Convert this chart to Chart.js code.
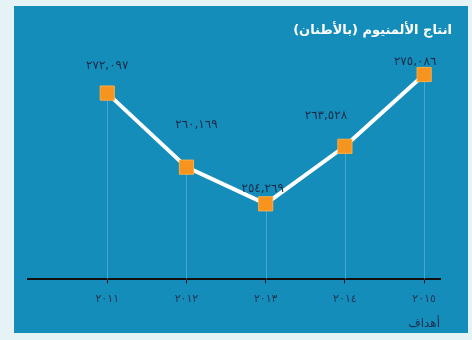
<!DOCTYPE html>
<html>
<head>
<meta charset="utf-8">
<script src="https://cdn.jsdelivr.net/npm/chart.js@4.4.1/dist/chart.umd.min.js"></script>
<style>
  html, body { margin: 0; padding: 0; background: #e6f3f6; }
  #panel { position: absolute; left: 14px; top: 6px; width: 454px; height: 327px; background: #158dba; }
  canvas { display: block; }
</style>
</head>
<body>
<div id="panel"><canvas id="chart" width="454" height="327"></canvas></div>
<script>
// بيانات انتاج الألمنيوم
const years = [2011, 2012, 2013, 2014, 2015];
const yearLabels = ['٢٠١١', '٢٠١٢', '٢٠١٣', '٢٠١٤', '٢٠١٥'];
const production = [272097, 260169, 254269, 263528, 275086];
const valueLabels = ['٢٧٢,٠٩٧', '٢٦٠,١٦٩', '٢٥٤,٢٦٩', '٢٦٣,٥٢٨', '٢٧٥,٠٨٦'];
const chartTitle = 'انتاج الألمنيوم (بالأطنان)';
const sourceText = 'أهداف';

// label offset from the point (dx, dy)
const labelOffsets = [[0, -27], [10, -42], [-3, -15], [-19, -30], [-9, -13]];

const arabicFont = '"DejaVu Sans", sans-serif';

const dropLines = {
  id: 'dropLines',
  beforeDatasetsDraw(chart) {
    const ctx = chart.ctx;
    const meta = chart.getDatasetMeta(0);
    const bottom = chart.chartArea.bottom;
    ctx.save();
    ctx.strokeStyle = 'rgba(130, 200, 230, 0.45)';
    ctx.lineWidth = 1;
    meta.data.forEach(p => {
      ctx.beginPath();
      ctx.moveTo(Math.round(p.x) + 0.5, p.y);
      ctx.lineTo(Math.round(p.x) + 0.5, bottom);
      ctx.stroke();
    });
    ctx.restore();
  }
};

const valueText = {
  id: 'valueText',
  afterDatasetsDraw(chart) {
    const ctx = chart.ctx;
    const meta = chart.getDatasetMeta(0);
    ctx.save();
    ctx.font = '12px ' + arabicFont;
    ctx.fillStyle = '#1a2b48';
    ctx.textAlign = 'center';
    ctx.textBaseline = 'middle';
    meta.data.forEach((p, i) => {
      ctx.fillText(valueLabels[i], p.x + labelOffsets[i][0], p.y + labelOffsets[i][1]);
    });
    // title
    ctx.font = 'bold 13px ' + arabicFont;
    ctx.fillStyle = '#ffffff';
    ctx.textAlign = 'right';
    ctx.fillText(chartTitle, chart.width - 16, 25);
    ctx.restore();
  }
};

new Chart(document.getElementById('chart'), {
  type: 'line',
  data: {
    datasets: [{
      data: years.map((y, i) => ({ x: y, y: production[i] })),
      borderColor: '#ffffff',
      borderWidth: 4,
      pointStyle: 'rect',
      pointRadius: 10,
      pointHoverRadius: 10,
      pointBackgroundColor: '#f7941d',
      pointBorderColor: '#fbae45',
      pointBorderWidth: 1,
      tension: 0
    }]
  },
  options: {
    responsive: false,
    animation: false,
    layout: { padding: { top: 38, right: 28, left: 14, bottom: 2 } },
    plugins: {
      legend: { display: false },
      tooltip: { enabled: false }
    },
    scales: {
      x: {
        type: 'linear',
        min: 2010,
        max: 2015.2,
        border: { color: '#111111', width: 2 },
        grid: {
          drawOnChartArea: false,
          drawTicks: true,
          tickLength: 4,
          color: ctx => (ctx.tick && ctx.tick.value >= 2011 && Number.isInteger(ctx.tick.value)) ? '#111111' : 'rgba(0,0,0,0)'
        },
        afterBuildTicks: axis => {
          axis.ticks = years.map(v => ({ value: v }));
        },
        ticks: {
          padding: 9,
          color: '#213554',
          font: { family: arabicFont, size: 11 },
          callback: v => {
            const i = years.indexOf(v);
            return i >= 0 ? yearLabels[i] : '';
          }
        },
        title: {
          display: true,
          text: sourceText,
          align: 'end',
          color: '#1c2f4d',
          font: { family: arabicFont, size: 12 },
          padding: { top: 2, bottom: 0 }
        }
      },
      y: {
        display: false,
        min: 242100,
        max: 280000
      }
    }
  },
  plugins: [dropLines, valueText]
});
</script>
</body>
</html>
